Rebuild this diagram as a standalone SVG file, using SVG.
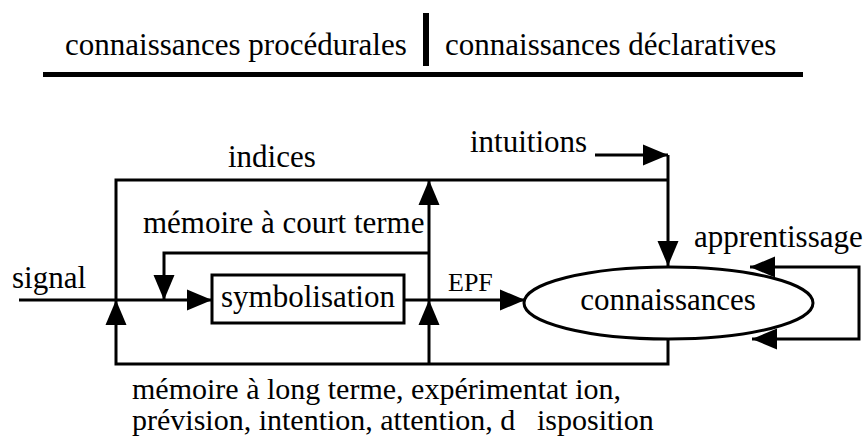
<svg xmlns="http://www.w3.org/2000/svg" xmlns:xlink="http://www.w3.org/1999/xlink" width="868" height="440" viewBox="0 0 868 440">
<style>
  text { font-family: 'Liberation Serif', 'Times New Roman', Times, serif; font-size: 31px; fill: #000; }
  .small { font-size: 26px; }
  .foot { font-size: 30px; }
  .ln { fill: none; stroke: #000; stroke-width: 3; }
  .shape { fill: #fff; stroke: #000; stroke-width: 3; }
</style>
<defs>
  <path id="ah" d="M0,0 L-25,-10.5 L-25,10.5 Z" fill="#000"/>
</defs>
<rect width="868" height="440" fill="#fff"/>
<g id="title" font-family="Liberation Serif, serif">
  <text x="65" y="55">connaissances procédurales</text>
  <rect x="423" y="13" width="6" height="53" fill="#000"/>
  <text x="445" y="55">connaissances déclaratives</text>
  <rect x="43" y="72" width="760" height="5" fill="#000"/>
</g>
<g id="connectors">
  <path class="ln" d="M668,339 V364 H116 V180 H668"/>
  <path class="ln" d="M668,155 V266"/>
  <path class="ln" d="M595,155 H668"/>
  <path class="ln" d="M429,364 V180"/>
  <path class="ln" d="M429,253 H164 V300"/>
  <path class="ln" d="M19,300 H212"/>
  <path class="ln" d="M404,300 H525"/>
  <path class="ln" d="M750,267 H859 V339 H752"/>
  <use xlink:href="#ah" transform="translate(212,300)"/>
  <use xlink:href="#ah" transform="translate(164,300) rotate(90)"/>
  <use xlink:href="#ah" transform="translate(116,300) rotate(-90)"/>
  <use xlink:href="#ah" transform="translate(429,300) rotate(-90)"/>
  <use xlink:href="#ah" transform="translate(429,180) rotate(-90)"/>
  <use xlink:href="#ah" transform="translate(525,300)"/>
  <use xlink:href="#ah" transform="translate(668,155)"/>
  <use xlink:href="#ah" transform="translate(668,266) rotate(90)"/>
  <use xlink:href="#ah" transform="translate(750,267) rotate(180)"/>
  <use xlink:href="#ah" transform="translate(752,339) rotate(180)"/>
</g>
<g id="symbolisation">
  <rect class="shape" x="212" y="275" width="192" height="48"/>
  <text x="308" y="307" text-anchor="middle">symbolisation</text>
</g>
<g id="connaissances">
  <ellipse class="shape" cx="668.5" cy="303" rx="144.5" ry="36"/>
  <text x="668" y="310" text-anchor="middle">connaissances</text>
</g>
<g id="labels">
  <text x="228" y="167">indices</text>
  <text x="470" y="152">intuitions</text>
  <text x="143" y="233">mémoire à court terme</text>
  <text x="12" y="288">signal</text>
  <text class="small" x="448" y="291">EPF</text>
  <text x="694" y="247">apprentissage</text>
  <text class="foot" x="132" y="399">mémoire à long terme, expérimentat ion,</text>
  <text class="foot" x="132" y="430">prévision, intention, attention, d<tspan x="537">isposition</tspan></text>
</g>
</svg>
